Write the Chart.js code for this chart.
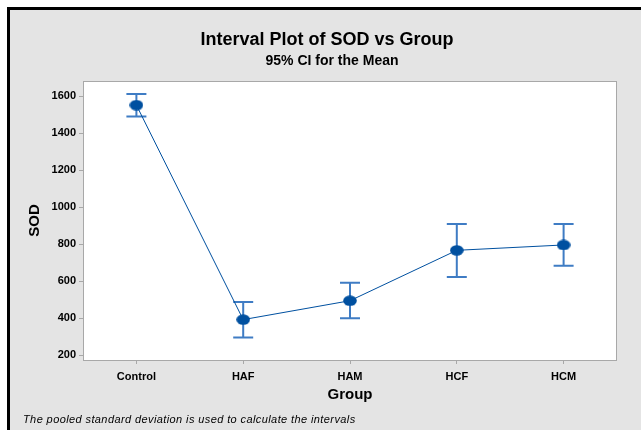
<!DOCTYPE html>
<html>
<head>
<meta charset="utf-8">
<script src="https://cdn.jsdelivr.net/npm/chart.js@4"></script>
<style>
  html, body { margin: 0; padding: 0; background: #fff; }
  #wrap { width: 641px; height: 430px; }
</style>
</head>
<body>
<div id="wrap"><canvas id="chart" width="641" height="430"></canvas></div>
<script>
const groups = ['Control', 'HAF', 'HAM', 'HCF', 'HCM'];
const means = [1551, 393, 495, 767, 796];
const lower = [1490, 296, 400, 623, 684];
const upper = [1611, 488, 592, 909, 909];
const yTicks = [200, 400, 600, 800, 1000, 1200, 1400, 1600];

const font = '"Liberation Sans", Arial, sans-serif';
const blue = '#0050a0';
const barBlue = '#3f7cc4';

// ellipse marker like minitab's
const dot = document.createElement('canvas');
dot.width = 14; dot.height = 11;
{
    const c = dot.getContext('2d');
    c.fillStyle = blue;
    c.beginPath();
    c.ellipse(7, 5.5, 6.8, 5.2, 0, 0, Math.PI * 2);
    c.fill();
}

const frame = {
    id: 'frame',
    beforeDraw(chart) {
        const ctx = chart.ctx;
        ctx.save();
        ctx.fillStyle = '#fff';
        ctx.fillRect(0, 0, chart.width, chart.height);
        ctx.fillStyle = '#e4e4e4';
        ctx.fillRect(7, 7, chart.width - 7, chart.height - 7);
        ctx.fillStyle = '#000';
        ctx.fillRect(7, 7, chart.width - 7, 3);
        ctx.fillRect(7, 7, 3, chart.height - 7);
        const a = chart.chartArea;
        ctx.fillStyle = '#fff';
        ctx.fillRect(a.left, a.top, a.right - a.left, a.bottom - a.top);
        ctx.restore();
    },
    afterDraw(chart) {
        const ctx = chart.ctx;
        const a = chart.chartArea;
        ctx.save();
        ctx.strokeStyle = '#a8a8a8';
        ctx.lineWidth = 1;
        ctx.strokeRect(a.left + 0.5, a.top + 0.5, a.right - a.left - 1, a.bottom - a.top);

        ctx.fillStyle = '#000';
        ctx.textAlign = 'center';
        ctx.textBaseline = 'middle';
        ctx.font = 'bold 18px ' + font;
        ctx.fillText('Interval Plot of SOD vs Group', 327, 40);
        ctx.font = 'bold 14px ' + font;
        ctx.fillText('95% CI for the Mean', 332, 61);

        ctx.font = 'bold 15px ' + font;
        ctx.fillText('Group', (a.left + a.right) / 2, 395);

        ctx.save();
        ctx.translate(35, (a.top + a.bottom) / 2);
        ctx.rotate(-Math.PI / 2);
        ctx.font = 'bold 15px ' + font;
        ctx.fillText('SOD', 0, 0);
        ctx.restore();

        ctx.textAlign = 'left';
        ctx.font = 'italic 11px ' + font;
        ctx.letterSpacing = '0.4px';
        ctx.fillText('The pooled standard deviation is used to calculate the intervals', 23, 420);
        ctx.restore();
    }
};

const errorBars = {
    id: 'errorBars',
    beforeDatasetsDraw(chart) {
        const ctx = chart.ctx;
        const xs = chart.scales.x, ys = chart.scales.y;
        ctx.save();
        ctx.strokeStyle = barBlue;
        ctx.lineWidth = 2;
        for (let i = 0; i < groups.length; i++) {
            const x = xs.getPixelForValue(i);
            const yl = ys.getPixelForValue(lower[i]);
            const yu = ys.getPixelForValue(upper[i]);
            ctx.beginPath();
            ctx.moveTo(x, yl); ctx.lineTo(x, yu);
            ctx.moveTo(x - 10, yl); ctx.lineTo(x + 10, yl);
            ctx.moveTo(x - 10, yu); ctx.lineTo(x + 10, yu);
            ctx.stroke();
        }
        ctx.restore();
    }
};

new Chart('chart', {
    type: 'line',
    data: {
        labels: groups,
        datasets: [{
            data: means,
            borderColor: blue,
            borderWidth: 1,
            pointStyle: dot,
            pointRadius: 6,
            pointHoverRadius: 6,
            tension: 0
        }]
    },
    options: {
        responsive: false,
        animation: false,
        layout: { padding: { top: 81, right: 24, left: 0, bottom: 0 } },
        plugins: { legend: { display: false }, tooltip: { enabled: false } },
        scales: {
            x: {
                offset: true,
                grid: { display: true, drawOnChartArea: false, offset: false, tickLength: 4, color: '#a8a8a8' },
                border: { display: false },
                ticks: { color: '#000', font: { family: font, size: 11, weight: 'bold' }, padding: 6, maxRotation: 0 },
                afterFit(s) { s.height = 70; }
            },
            y: {
                min: 175,
                max: 1681,
                afterBuildTicks(s) { s.ticks = yTicks.map(v => ({ value: v })); },
                grid: { display: true, drawOnChartArea: false, tickLength: 4, color: '#a8a8a8' },
                border: { display: false },
                ticks: { color: '#000', font: { family: font, size: 11, weight: 'bold' }, padding: 3,
                    callback: v => String(v) },
                afterFit(s) { s.width = 83; }
            }
        }
    },
    plugins: [frame, errorBars]
});
</script>
</body>
</html>
